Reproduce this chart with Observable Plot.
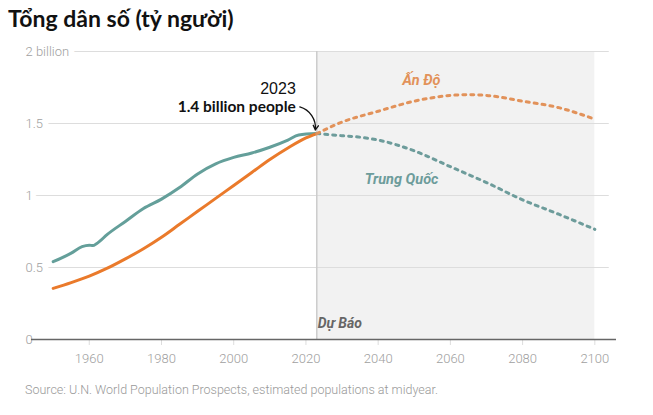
<!DOCTYPE html>
<html><head><meta charset="utf-8">
<script src="https://cdn.jsdelivr.net/npm/d3@7"></script>
<script src="https://cdn.jsdelivr.net/npm/@observablehq/plot@0.6"></script>
<style>
body{margin:0;background:#fff;font-family:Roboto,sans-serif;}
#title{font-family:"Lato","Open Sans",sans-serif;font-weight:bold;font-size:23px;color:#111;position:absolute;left:8px;top:4px;margin:0;}
#chart{position:absolute;left:0;top:40px;}
#cap{position:absolute;left:25px;top:382px;font-size:12.5px;color:#999;font-family:Roboto,sans-serif;font-weight:300;}
</style></head><body>
<div id="title">Tổng dân số (tỷ người)</div>
<div id="chart"></div>
<div id="cap">Source: U.N. World Population Prospects, estimated populations at midyear.</div>
<script>
const chinaHistYears = [1950,1955,1958,1960,1961,1962,1965,1970,1975,1980,1985,1990,1995,2000,2005,2010,2015,2018,2023];
const chinaHistVals  = [0.54,0.60,0.645,0.655,0.652,0.665,0.73,0.82,0.91,0.975,1.055,1.15,1.22,1.265,1.295,1.335,1.385,1.42,1.43];
const indiaHistYears = [1950,1955,1960,1965,1970,1975,1980,1985,1990,1995,2000,2005,2010,2015,2020,2023];
const indiaHistVals  = [0.355,0.395,0.44,0.495,0.56,0.63,0.71,0.80,0.89,0.98,1.07,1.16,1.25,1.33,1.40,1.43];
const chinaProjYears = [2023,2030,2035,2040,2050,2060,2070,2080,2090,2100];
const chinaProjVals  = [1.43,1.415,1.405,1.385,1.31,1.20,1.09,0.97,0.87,0.765];
const indiaProjYears = [2023,2030,2040,2050,2060,2065,2070,2080,2090,2100];
const indiaProjVals  = [1.43,1.51,1.585,1.655,1.695,1.70,1.695,1.655,1.61,1.53];
const yTicks = [0,0.5,1,1.5,2];
const yTickLabels = ["0","0.5","1","1.5","2 billion"];
const xTicks = [1960,1980,2000,2020,2040,2060,2080,2100];
const forecastStart = 2023, forecastEnd = 2100;
const labels = {india:"Ấn Độ", china:"Trung Quốc", forecast:"Dự Báo", year:"2023", note:"1.4 billion people"};
const xDomain = [1944, 2106];

const zip = (ys, vs) => ys.map((y,i)=>({year:y, value:vs[i]}));
const chinaH = zip(chinaHistYears, chinaHistVals), indiaH = zip(indiaHistYears, indiaHistVals);
const chinaP = zip(chinaProjYears, chinaProjVals), indiaP = zip(indiaProjYears, indiaProjVals);
const yt = yTicks.map((v,i)=>({v, label:yTickLabels[i]}));

const TEAL="#649f9a", ORANGE="#ea7a2b", TEALD="#6d9c9b", ORANGED="#e2925a";
const font = "Roboto, sans-serif";

const plot = Plot.plot({
  width:653, height:340, marginLeft:31, marginRight:37, marginTop:11, marginBottom:41,
  x:{domain:xDomain, axis:null}, y:{domain:[0,2], axis:null},
  style:{fontFamily:font, background:"transparent"},
  marks:[
    Plot.rect([{x1:forecastStart,x2:forecastEnd}], {x1:"x1", x2:"x2", y1:0, y2:2, fill:"#f2f2f2"}),
    Plot.ruleY(yt.filter(d=>d.v>0), {y:"v", x1:xDomain[0], x2:xDomain[1]-2, stroke:"#ddd", strokeWidth:1}),
    Plot.ruleX([forecastStart], {y1:0, y2:2, stroke:"#ccc", strokeWidth:1.5}),
    Plot.text(yt, {x:xDomain[0], y:"v", text:"label", textAnchor:"start", dx:-6, fill:"#a0a0a0", fontSize:13, fontWeight:300, stroke:"white", strokeWidth:12}),
    Plot.axisX({ticks:xTicks, tickFormat:d=>String(d), tickSize:6, stroke:"#ddd", fill:"#a0a0a0", fontSize:13, fontWeight:300, tickPadding:8, label:null}),
    Plot.ruleY([0], {x1:xDomain[0], x2:xDomain[1], stroke:"#666", strokeWidth:1.6}),
    Plot.line(chinaH, {x:"year", y:"value", stroke:TEAL, strokeWidth:3, curve:"monotone-x"}),
    Plot.line(indiaH, {x:"year", y:"value", stroke:ORANGE, strokeWidth:3, curve:"monotone-x"}),
    Plot.line(chinaP, {x:"year", y:"value", stroke:TEALD, strokeWidth:3, strokeDasharray:"3 5", curve:"monotone-x"}),
    Plot.line(indiaP, {x:"year", y:"value", stroke:ORANGED, strokeWidth:3, strokeDasharray:"3 5", curve:"monotone-x"}),
    Plot.text([labels.india], {x:2052, y:1.80, text:d=>d, fill:ORANGED, fontSize:14.5, fontWeight:"bold", fontStyle:"italic"}),
    Plot.text([labels.china], {x:2046.5, y:1.11, text:d=>d, fill:TEALD, fontSize:14.5, fontWeight:"bold", fontStyle:"italic"}),
    Plot.text([labels.forecast], {x:forecastStart, y:0, text:d=>d, textAnchor:"start", dx:1, dy:-16, fill:"#666", fontSize:14, fontWeight:"bold", fontStyle:"italic"}),
    Plot.text([labels.year], {x:forecastStart, y:1.74, text:d=>d, textAnchor:"end", dx:-21, fill:"#111", fontSize:16, fontFamily:"'Liberation Sans', Roboto, sans-serif"}),
    Plot.text([labels.note], {x:forecastStart, y:1.615, text:d=>d, textAnchor:"end", dx:-21, fill:"#111", fontSize:15.5, fontWeight:"bold", fontFamily:"Lato, 'Open Sans', sans-serif"}),
    Plot.arrow([{x1:2018.3, y1:1.615, x2:2022.6, y2:1.455}], {x1:"x1", y1:"y1", x2:"x2", y2:"y2", bend:40, stroke:"#111", strokeWidth:1.3, headLength:6})
  ]
});
document.getElementById("chart").appendChild(plot);
</script>
</body></html>
